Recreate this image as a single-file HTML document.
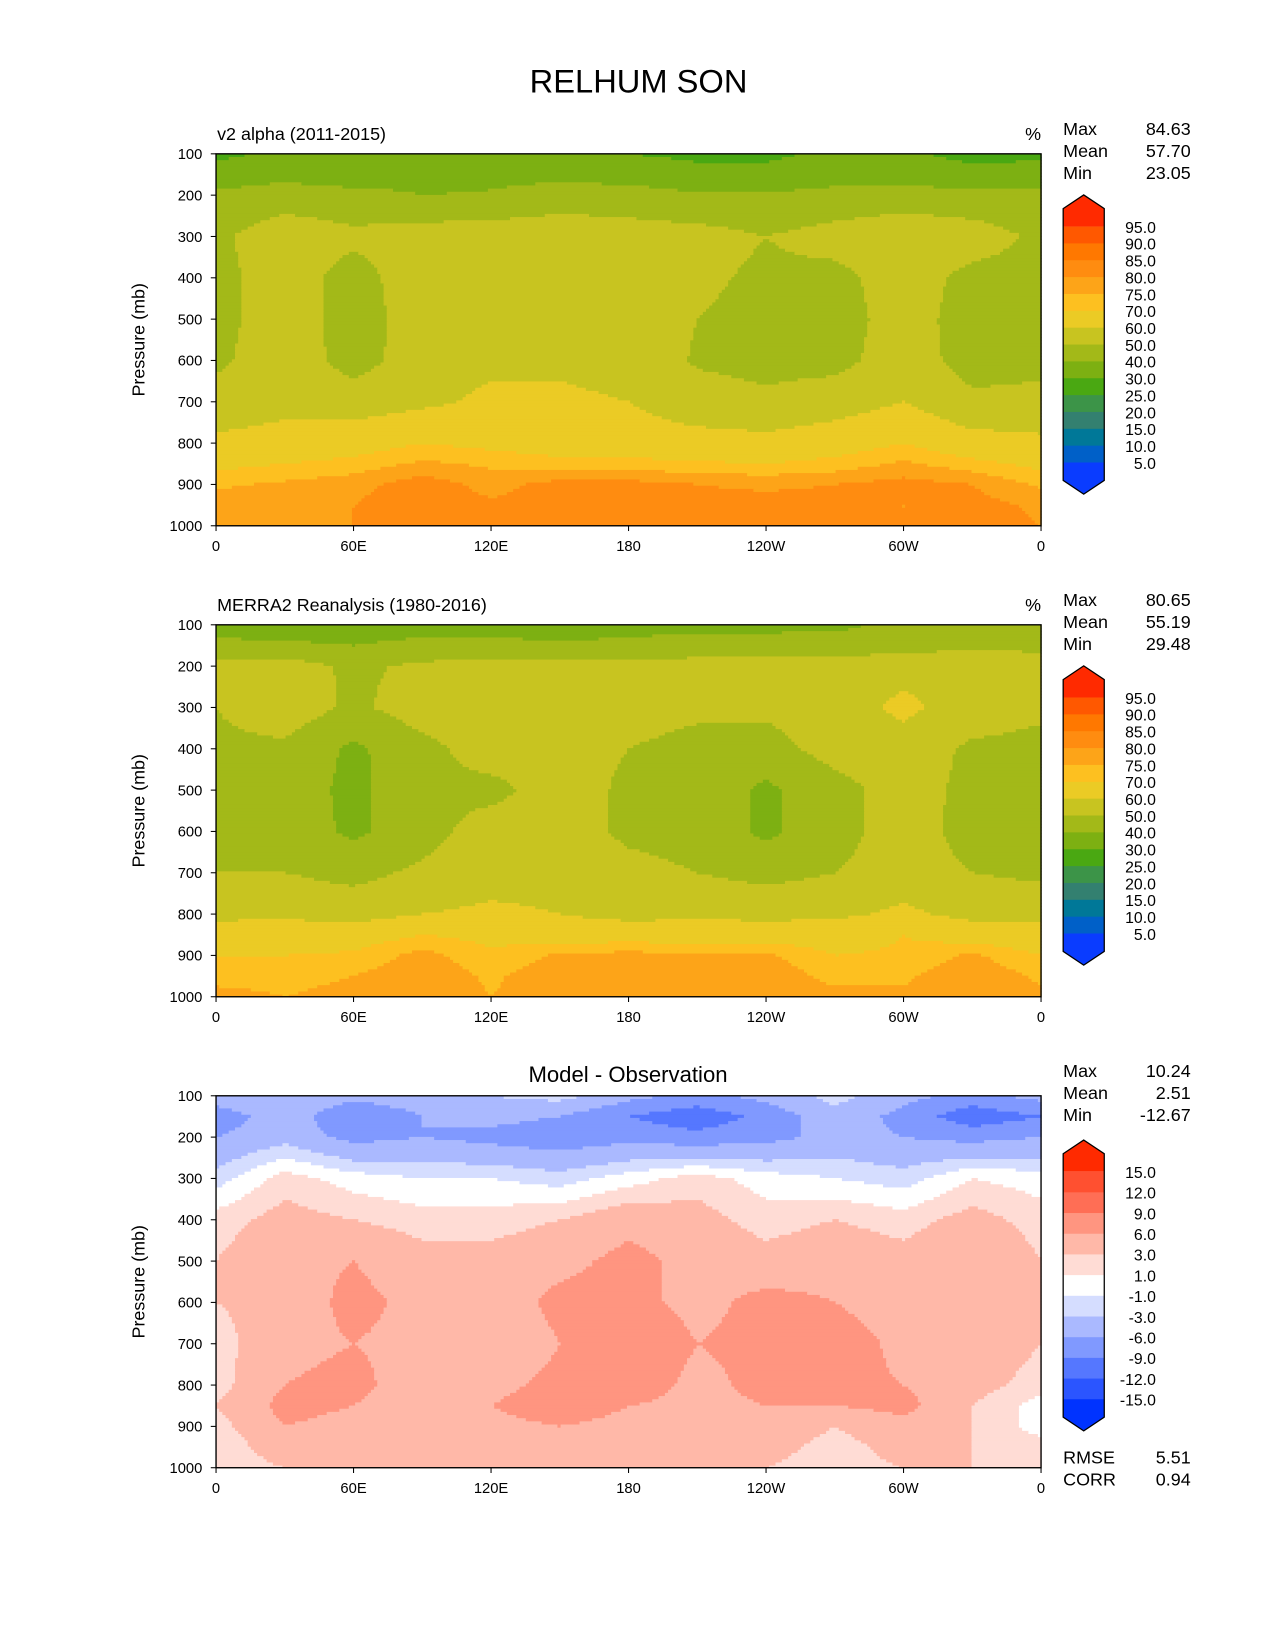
<!DOCTYPE html>
<html><head><meta charset="utf-8">
<style>
html,body{margin:0;padding:0;background:#fff;}
svg{display:block;font-family:"Liberation Sans","DejaVu Sans",sans-serif;}
</style></head>
<body>
<svg id="fig" width="1275" height="1650" viewBox="0 0 1210 1566" xmlns="http://www.w3.org/2000/svg">
<rect width="1210" height="1566" fill="#fff"/>
<text x="606" y="88" font-size="31" text-anchor="middle">RELHUM SON</text>
</svg>
<script>
// ---- data ----
const lons = [0,30,60,90,120,150,180,210,240,270,300,330,360];
const pressures = [100,150,200,300,400,500,600,700,800,850,900,950,1000];
const modelRH = [
[28,32,31,32,33,32,30,28,28,32,31,28,28],
[34,37,33,36,37,37,36,33,33,36,35,32,34],
[42,45,44,40,41,45,44,41,41,43,45,43,42],
[48,56,52,55,56,56,55,54,50,54,57,55,48],
[47,55,46,56,57,57,56,52,48,47,55,47,46],
[47,55,46,54,57,57,56,50,47,46,54,46,46],
[48,56,46,55,58,58,56,49,47,47,55,46,47],
[54,57,55,58,62,62,60,54,52,55,60,52,53],
[62,64,66,70,68,66,65,64,63,66,70,64,62],
[68,70,72,76,74,72,72,71,70,72,76,72,68],
[74,76,78,83,78,82,82,80,79,80,82,80,74],
[78,79,80,84,81,83,84,82,82,82,80,82,79],
[79,80,80,83,80,82,84,82,81,80,80,82,80]];
const obsRH = [
[36,37,36,37,37,36,37,38,38,38,42,44,44],
[42,41,40,42,42,41,42,43,43,44,46,48,47],
[54,55,48,52,55,53,53,55,55,55,57,57,56],
[50,56,48,55,57,56,54,52,52,56,62,56,52],
[48,48,38,47,55,54,50,47,46,54,56,48,47],
[47,46,37,48,47,55,48,46,38,46,55,47,46],
[47,46,38,46,55,55,48,46,38,46,55,46,46],
[50,50,47,52,56,56,53,50,47,50,55,50,48],
[58,58,56,60,62,60,57,58,57,58,62,57,57],
[64,66,66,70,68,66,66,66,66,66,70,66,64],
[70,70,71,77,71,76,77,76,76,70,71,76,70],
[74,74,75,79,74,79,79,78,79,73,74,79,74],
[76,75,76,79,75,78,79,78,79,77,76,79,76]];
const diffRH = [
[-4,-3,-5,-4,-3,-2,-5,-7,-5,-2,-5,-7,-5],
[-8,-4,-9,-6,-5,-6,-9,-11,-8,-4,-7,-11,-9],
[-6,-4,-7,-6,-7,-8,-7,-8,-7,-5,-6,-7,-6],
[-2,2,0,-1,-1,-2,0,2,0,-1,-2,1,0],
[2,4,3,2,2,3,5,4,2,3,2,4,2],
[3,5,6,4,4,5,7,5,4,5,4,6,3],
[3,4,7,5,4,7,7,5,7,6,4,6,4],
[2,5,6,5,3,6,9,6,7,8,5,5,3],
[2,6,7,4,5,7,8,5,7,7,6,4,2],
[3,7,6,4,6,8,6,5,6,6,7,3,0],
[2,6,5,4,5,6,5,4,5,3,5,3,0],
[1,5,4,4,4,5,4,4,4,2,4,3,2],
[1,3,4,4,4,4,4,3,3,2,3,3,2]];
const rhLevels = [5,10,15,20,25,30,40,50,60,70,75,80,85,90,95];
const rhColors = ["#0a3cff","#0060c8","#007898","#338070","#3c9448","#4aa812","#7db012","#a3b918","#c8c420","#ebcb25","#fdc020","#fda418","#ff8c10","#ff7800","#ff5800","#ff2a00"];
const diffLevels = [-15,-12,-9,-6,-3,-1,1,3,6,9,12,15];
const diffColors = ["#0033ff","#2b55ff","#5577ff","#8099ff","#aab9ff","#d5ddff","#ffffff","#ffdcd5","#ffb8a8","#ff9580","#ff6e55","#ff5030","#ff2a00"];
const yTicks = [100,200,300,400,500,600,700,800,900,1000];
const xTickVals = [0,60,120,180,240,300,360];
const xTickLabels = ["0","60E","120E","180","120W","60W","0"];
const panelTitles = ["v2 alpha (2011-2015)","MERRA2 Reanalysis (1980-2016)","Model - Observation"];
const statNames = ["Max","Mean","Min"];
const statVals = [["84.63","57.70","23.05"],["80.65","55.19","29.48"],["10.24","2.51","-12.67"]];

// ---- drawing ----
const NS="http://www.w3.org/2000/svg";
const svg=document.getElementById('fig');
function mk(tag,attrs,parent){const e=document.createElementNS(NS,tag);for(const k in attrs)e.setAttribute(k,attrs[k]);(parent||svg).appendChild(e);return e;}
const X0=205,X1=988,PH=353;
function xs(lon){return X0+(lon/360)*(X1-X0);}
function ysF(top){return p=>top+(p-100)/900*PH;}
function colorFor(v,levels,colors){let i=0;while(i<levels.length&&v>=levels[i])i++;return colors[i];}
function interp(grid,lon,p){
  let i=0;while(i<lons.length-2&&lon>lons[i+1])i++;
  let j=0;while(j<pressures.length-2&&p>pressures[j+1])j++;
  const tx=(lon-lons[i])/(lons[i+1]-lons[i]),ty=(p-pressures[j])/(pressures[j+1]-pressures[j]);
  const a=grid[j][i],b=grid[j][i+1],c=grid[j+1][i],d=grid[j+1][i+1];
  return (a*(1-tx)+b*tx)*(1-ty)+(c*(1-tx)+d*tx)*ty;
}
function panel(k,top,grid,levels,colors,cbLabels,cbTop,cbStep){
  const ys=ysF(top);
  const g=mk('g',{},svg);
  
  
  const step=3;
  for(let y=top;y<top+PH;y+=step){
    const h=Math.min(step,top+PH-y);
    const p=100+(y+h/2-top)/PH*900;
    let runStart=X0,runCol=null;
    for(let x=X0;x<=X1;x+=step){
      let col=null;
      if(x<X1){const lon=(Math.min(x+step/2,X1)-X0)/(X1-X0)*360;col=colorFor(interp(grid,lon,p),levels,colors);}
      if(col!==runCol){
        if(runCol!==null){const r=mk('rect',{x:runStart,y:y,width:Math.min(x,X1)-runStart+0.6,height:h+0.6,fill:runCol},g);
          
          }
        runStart=x;runCol=col;
      }
    }
  }
  const fr=mk('rect',{x:X0,y:top,width:X1-X0,height:PH,fill:'none',stroke:'#000','stroke-width':1.3});
  
  
  yTicks.forEach(p=>{
    mk('line',{x1:X0-5,x2:X0,y1:ys(p),y2:ys(p),stroke:'#000','stroke-width':1});
    const t=mk('text',{x:X0-13,y:ys(p)+5,'font-size':14,'text-anchor':'end'});t.textContent=p;
    
    
  });
  xTickVals.forEach((v,i)=>{
    mk('line',{x1:xs(v),x2:xs(v),y1:top+PH,y2:top+PH+5,stroke:'#000','stroke-width':1});
    const t=mk('text',{x:xs(v),y:top+PH+24,'font-size':14,'text-anchor':'middle'});t.textContent=xTickLabels[i];
    
    
  });
  const yl=mk('text',{x:0,y:0,'font-size':17,'text-anchor':'middle',transform:`translate(137,${top+PH/2}) rotate(-90)`});
  yl.textContent='Pressure (mb)';
  
  
  if(k<2){
    const t=mk('text',{x:206,y:top-13,'font-size':17});t.textContent=panelTitles[k];
    
    
    const u=mk('text',{x:988,y:top-13,'font-size':17,'text-anchor':'end'});u.textContent='%';
    
    
  } else {
    const t=mk('text',{x:596,y:top-13,'font-size':21,'text-anchor':'middle'});t.textContent=panelTitles[k];
    
    
  }
  statNames.forEach((s,i)=>{
    const a=mk('text',{x:1009,y:top-18+i*21,'font-size':17});a.textContent=s;
    
    
    const b=mk('text',{x:1130,y:top-18+i*21,'font-size':17,'text-anchor':'end'});b.textContent=statVals[k][i];
    
    
  });
  const cx0=1009,cx1=1048,n=levels.length;
  const cb=mk('g',{},svg);
  
  
  const bTop=cbTop, bBot=cbTop+(n-1)*cbStep;
  const ext=17, tri=13;
  mk('polygon',{points:`${cx0},${bTop} ${cx0},${bTop-ext} ${(cx0+cx1)/2},${bTop-ext-tri} ${cx1},${bTop-ext} ${cx1},${bTop}`,fill:colors[n]},cb);
  for(let i=0;i<n-1;i++){
    mk('rect',{x:cx0,y:bTop+i*cbStep,width:cx1-cx0,height:cbStep+0.5,fill:colors[n-1-i]},cb);
  }
  mk('polygon',{points:`${cx0},${bBot} ${cx0},${bBot+ext} ${(cx0+cx1)/2},${bBot+ext+tri} ${cx1},${bBot+ext} ${cx1},${bBot}`,fill:colors[0]},cb);
  mk('polygon',{points:`${cx0},${bTop-ext} ${(cx0+cx1)/2},${bTop-ext-tri} ${cx1},${bTop-ext} ${cx1},${bBot+ext} ${(cx0+cx1)/2},${bBot+ext+tri} ${cx0},${bBot+ext}`,fill:'none',stroke:'#000','stroke-width':1.2},cb);
  for(let i=0;i<n;i++){
    const t=mk('text',{x:1097,y:bTop+i*cbStep+6,'font-size':15,'text-anchor':'end'},cb);
    t.textContent=cbLabels[n-1-i];
    
    
  }
}
const rhLbl=rhLevels.map(v=>v.toFixed(1));
const dfLbl=diffLevels.map(v=>v.toFixed(1));
panel(0,146,modelRH,rhLevels,rhColors,rhLbl,215,16);
panel(1,593,obsRH,rhLevels,rhColors,rhLbl,662,16);
panel(2,1040,diffRH,diffLevels,diffColors,dfLbl,1112,19.64);
[["RMSE","5.51"],["CORR","0.94"]].forEach((r,i)=>{
  const a=mk('text',{x:1009,y:1389+i*21,'font-size':17});a.textContent=r[0];
  
  
  const b=mk('text',{x:1130,y:1389+i*21,'font-size':17,'text-anchor':'end'});b.textContent=r[1];
  
  
});
</script>
</body></html>
